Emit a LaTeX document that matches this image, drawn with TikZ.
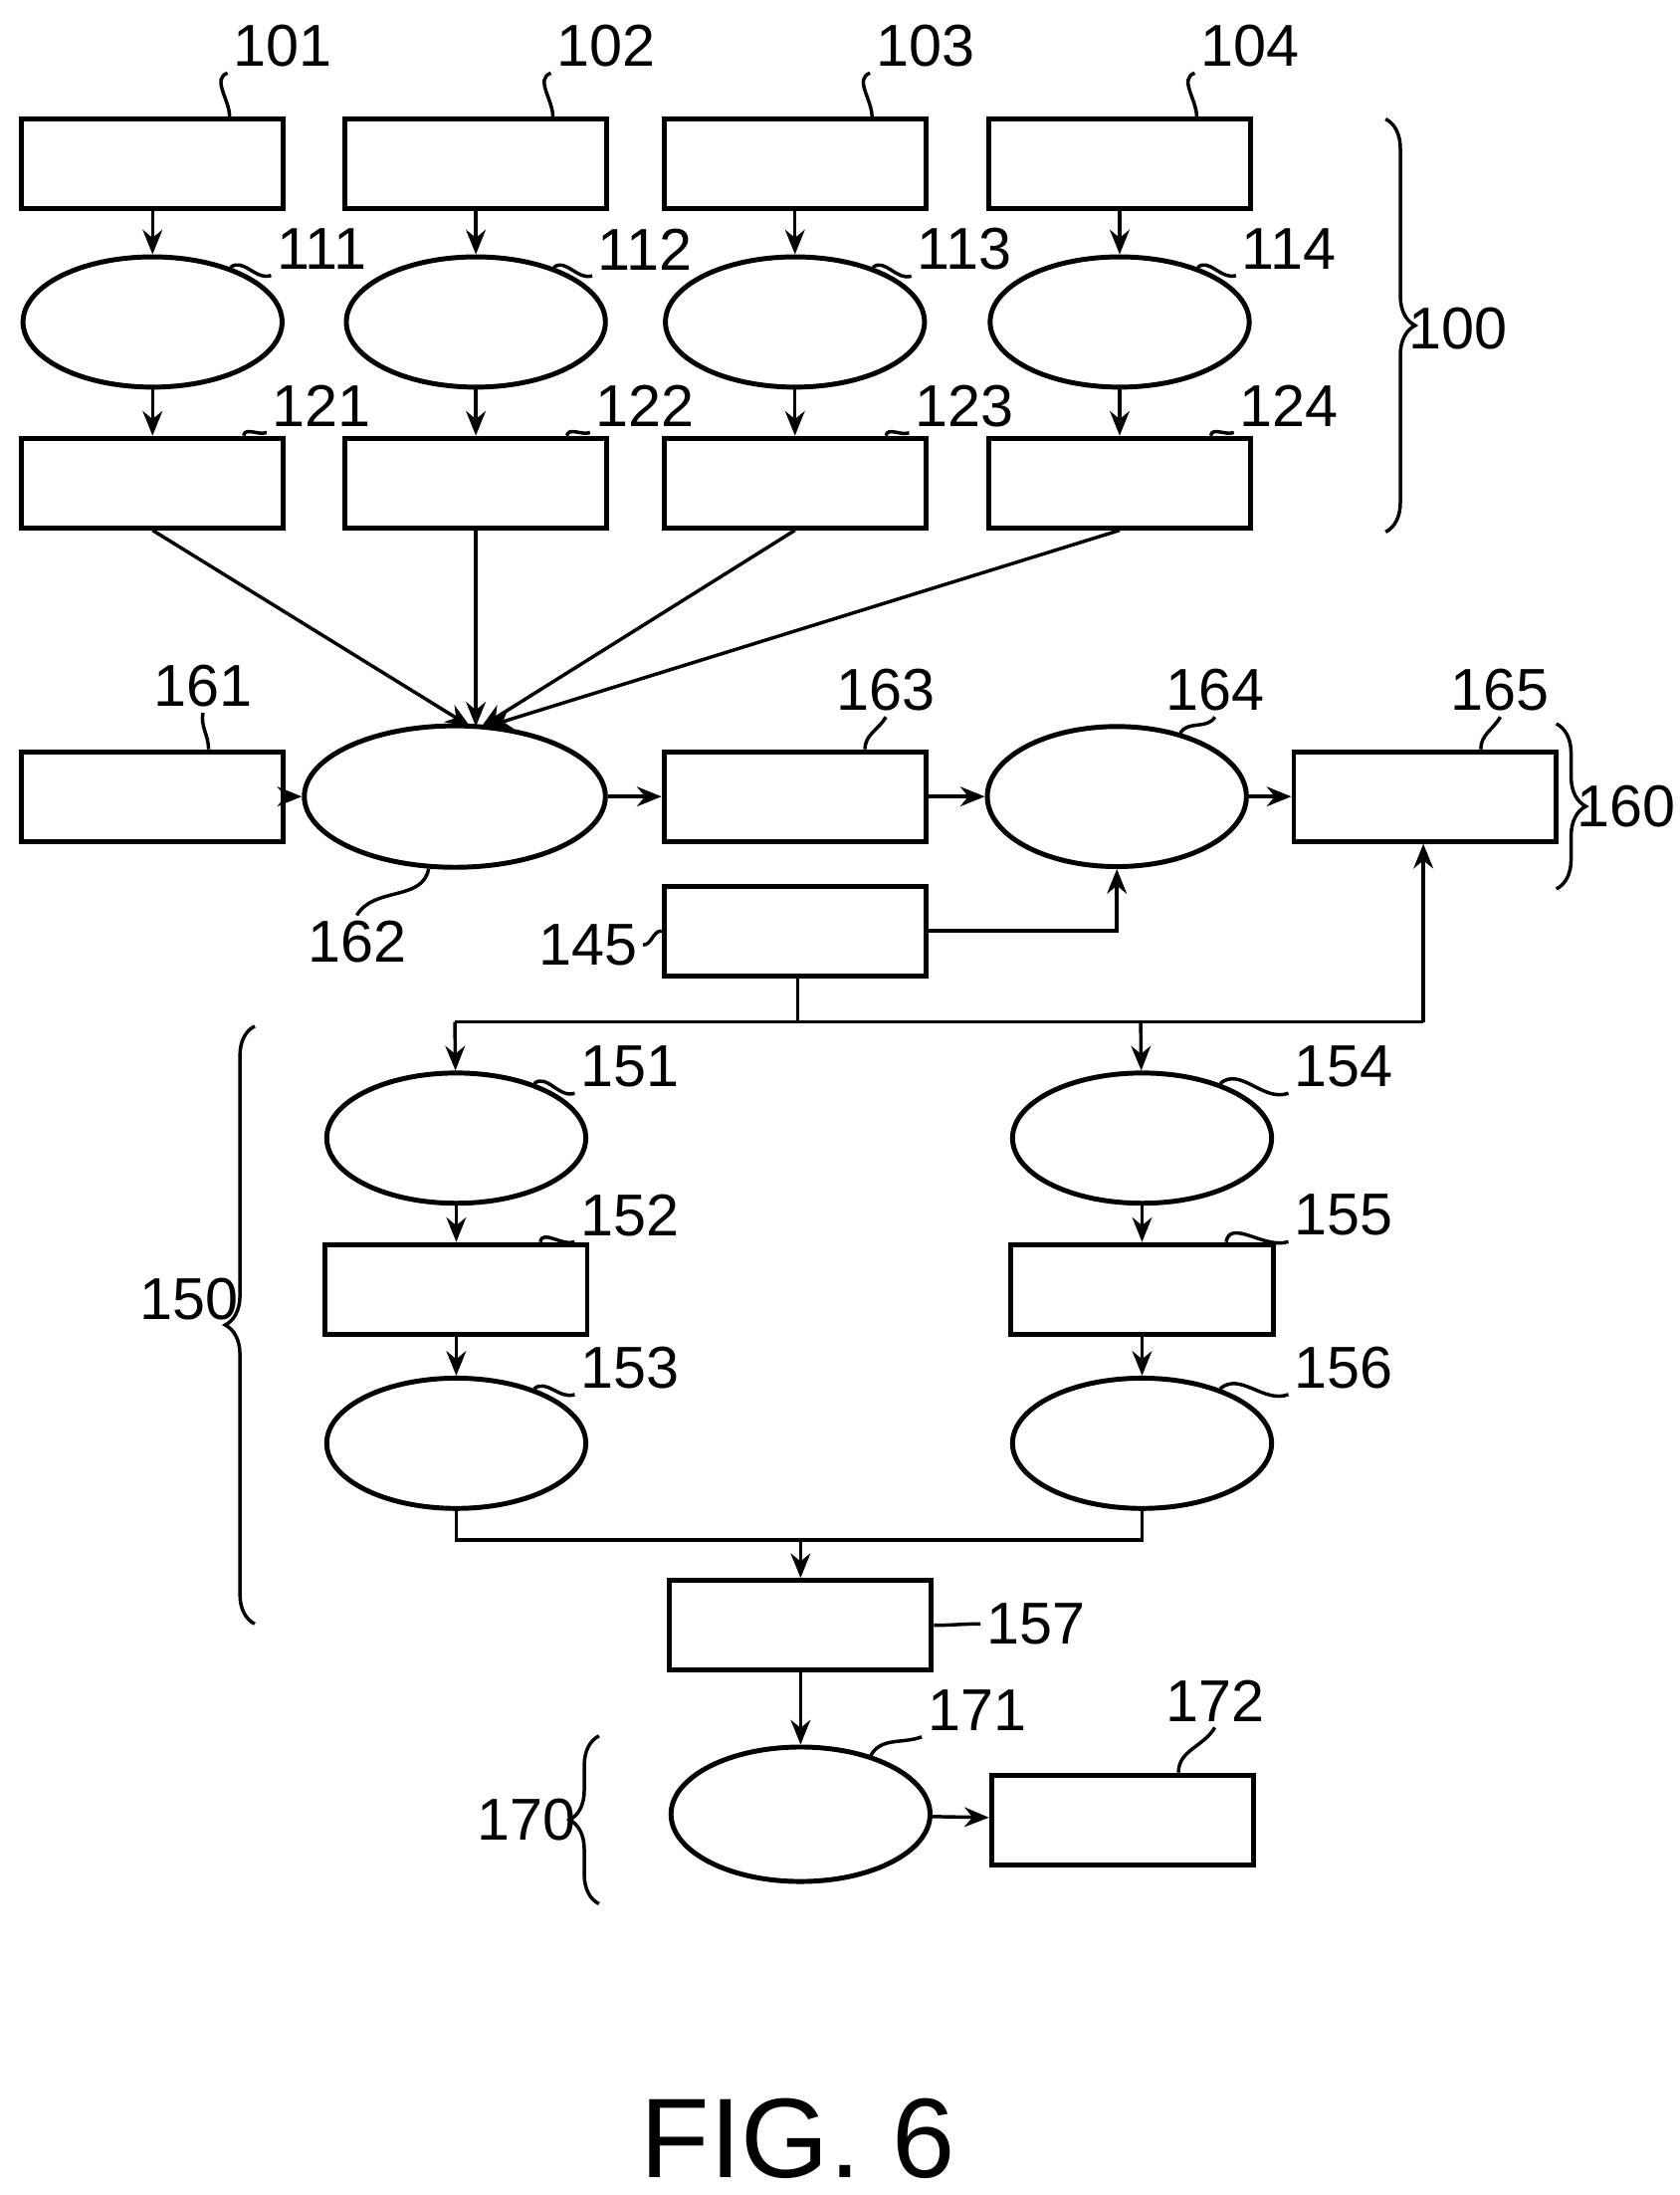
\documentclass[tikz,border=0pt]{standalone}
\usepackage{fontspec}
\setmainfont{Liberation Sans}
\usetikzlibrary{shapes.geometric,decorations.pathreplacing,arrows.meta}
\tikzset{
  box/.style={draw, line width=1pt, minimum width=1.87cm, minimum height=0.64cm, inner sep=0pt},
  ell/.style={draw, ellipse, line width=1pt, minimum width=1.85cm, minimum height=0.93cm, inner sep=0pt},
  num/.style={font=\fontsize{12}{12}\selectfont, inner sep=1pt},
  lead/.style={line width=0.7pt},
  flow/.style={line width=0.7pt, -{Stealth[length=5pt,width=4pt]}},
  brc/.style={line width=0.7pt, decorate, decoration={brace, amplitude=6pt}}
}
\begin{document}
\begin{tikzpicture}[x=0.01cm,y=-0.01cm]
\useasboundingbox (0,0) rectangle (1200,1568);
% top columns
\foreach \i/\x in {1/109,2/340,3/568,4/800}{
  \node (b10\i) at (\x,117) [box] {};
  \node (e11\i) at (\x,230) [ell] {};
  \node (b12\i) at (\x,345) [box] {};
  \node (l10\i) at (\x+93,33) [num] {10\i};
  \node (l11\i) at (\x+121,178) [num] {11\i};
  \node (l12\i) at (\x+121,290) [num] {12\i};
  \draw[flow] (b10\i) -- (e11\i);
  \draw[flow] (e11\i) -- (b12\i);
  \draw[lead] ([xshift=0.55cm]b10\i.north) to[out=90,in=200] (l10\i.south west);
  \draw[lead] (e11\i.35) to[out=40,in=200] (l11\i.south west);
  \draw[lead] ([xshift=0.65cm]b12\i.north) to[out=80,in=200] (l12\i.south west);
}
% middle row
\node (b161) at (109,569) [box] {};
\node (e162) at (325,569) [ell, minimum width=2.15cm, minimum height=1.01cm] {};
\node (b163) at (568,569) [box] {};
\node (e164) at (798,569) [ell, minimum height=1cm] {};
\node (b165) at (1018,569) [box] {};
\node (b145) at (568,665) [box] {};
\coordinate (t162) at (340,519);
\foreach \i in {1,2,3,4}{ \draw[flow] (b12\i.south) -- ([xshift=(\i-2)*0.04cm]t162); }
\draw[flow] (b161) -- (e162);
\draw[flow] (e162) -- (b163);
\draw[flow] (b163) -- (e164);
\draw[flow] (e164) -- (b165);
\coordinate (j145) at (570,730);
\coordinate (jl) at (325,730);
\coordinate (jr) at (815,730);
\coordinate (j165) at (1017,730);
\draw[flow] (b145.east) -| (e164.south);
\draw[lead] (b145.south -| j145) -- (j145);
\draw[lead] (jl) -- (j165);
\draw[flow] (j165) -- (j165 |- b165.south);
% labels of middle row
\node (l161) at (145,490) [num] {161};
\node (l162) at (255,673) [num] {162};
\node (l163) at (633,493) [num] {163};
\node (l164) at (868,493) [num] {164};
\node (l165) at (1072,493) [num] {165};
\node (l145) at (420,675) [num] {145};
\draw[lead] ([xshift=0.4cm]b161.north) to[out=90,in=-100] (l161.south);
\draw[lead] (e162.-110) to[out=-100,in=60] (l162.north);
\draw[lead] ([xshift=0.5cm]b163.north) to[out=90,in=-120] (l163.south);
\draw[lead] (e164.45) to[out=60,in=-120] (l164.south);
\draw[lead] ([xshift=0.4cm]b165.north) to[out=90,in=-120] (l165.south);
\draw[lead] (l145.east) to[out=0,in=180] (b145.west);
% branches 150
\node (e151) at (326,813) [ell] {};
\node (b152) at (326,921) [box] {};
\node (e153) at (326,1031) [ell] {};
\node (e154) at (816,813) [ell] {};
\node (b155) at (816,921) [box] {};
\node (e156) at (816,1031) [ell] {};
\draw[flow] (jl) -- (e151);
\draw[flow] (jr) -- (e154);
\draw[flow] (e151) -- (b152);
\draw[flow] (b152) -- (e153);
\draw[flow] (e154) -- (b155);
\draw[flow] (b155) -- (e156);
\node (b157) at (572,1161) [box] {};
\coordinate (jb) at (572,1100);
\draw[lead] (e153.south) |- (jb) -| (e156.south);
\draw[flow] (jb) -- (b157);
\foreach \n/\m/\x/\y in {151/e151/450/762,152/b152/450/868,153/e153/450/977,154/e154/960/762,155/b155/960/868,156/e156/960/977}{
  \node (l\n) at (\x,\y) [num] {\n};
}
\foreach \a/\b in {e151/l151,e153/l153,e154/l154,e156/l156}{ \draw[lead] (\a.35) to[out=40,in=200] (\b.south west); }
\foreach \a/\b in {b152/l152,b155/l155}{ \draw[lead] ([xshift=0.6cm]\a.north) to[out=80,in=200] (\b.south west); }
\node (l157) at (740,1160) [num] {157};
\draw[lead] (b157.east) to[out=0,in=180] (l157.west);
% 170
\node (e171) at (572,1296) [ell, minimum height=0.96cm] {};
\node (b172) at (802,1300) [box] {};
\draw[flow] (b157) -- (e171);
\draw[flow] (e171) -- (b172);
\node (l171) at (698,1222) [num] {171};
\node (l172) at (868,1215) [num] {172};
\draw[lead] (e171.40) to[out=60,in=200] (l171.south west);
\draw[lead] ([xshift=0.4cm]b172.north) to[out=90,in=-120] (l172.south);
% braces and group labels
\node (l100) at (1042,235) [num] {100};
\node (l160) at (1162,576) [num] {160};
\node (l150) at (135,928) [num] {150};
\node (l170) at (376,1300) [num] {170};
\draw[brc] (990,85) -- (990,380);
\draw[brc] (1112,517) -- (1112,635);
\draw[brc] (182,1160) -- (182,733);
\draw[brc] (428,1360) -- (428,1240);
\node (fig) at (570,1528) [font=\fontsize{23}{23}\selectfont] {FIG. 6};
\end{tikzpicture}
\end{document}
